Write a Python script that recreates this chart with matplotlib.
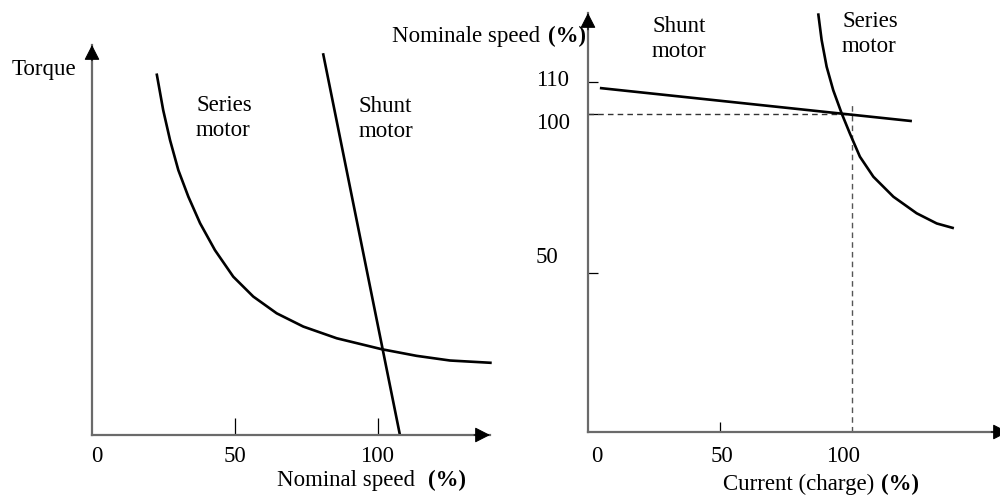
import matplotlib
matplotlib.use("Agg")
import matplotlib.pyplot as plt

# ---- data -------------------------------------------------------------
# Torque vs. nominal speed (%)
series_speed = [22.6, 24.9, 27.3, 30.2, 33.7, 37.8, 43.0, 49.4, 56.4, 64.6,
                73.9, 85.6, 101.3, 113.5, 125.2, 139.8]
series_torque = [92.7, 83.3, 75.6, 67.9, 61.1, 54.3, 47.4, 40.6, 35.5, 31.2,
                 27.8, 24.8, 22.0, 20.3, 19.1, 18.5]
shunt_speed = [80.8, 107.7]
shunt_torque = [97.9, 0.0]

# Nominal speed (%) vs. current (charge) (%)
shunt_current = [4.5, 122.7]
shunt_nspeed = [108.2, 97.8]
series_current = [87.2, 88.5, 90.4, 92.9, 96.1, 99.2, 103.0, 108.1, 115.7,
                  124.5, 132.1, 138.6]
series_nspeed = [131.7, 123.3, 114.9, 107.5, 100.2, 93.9, 86.6, 80.3, 74.0,
                 68.8, 65.6, 64.1]

left_xticks = [50, 100]
right_xticks = [50]
right_yticks = [50, 100, 110]
nominal_point = (100, 100)

# ---- style ------------------------------------------------------------
FONT = "Liberation Serif"
FS = 16.5
plt.rcParams["font.family"] = [FONT, "DejaVu Serif"]

W, H = 1000, 496
fig = plt.figure(figsize=(W / 100, H / 100), dpi=100)


def fx(x):
    return x / W


def fy(y):
    return 1 - y / H


def label(x, y, s, ha="left", bold=False):
    fig.text(fx(x), fy(y), s, ha=ha, va="baseline", fontsize=FS,
             fontweight="bold" if bold else "normal", color="black")


def style_axes(ax):
    for side in ("top", "right"):
        ax.spines[side].set_visible(False)
    for side in ("left", "bottom"):
        ax.spines[side].set_color("#6a6a6a")
        ax.spines[side].set_linewidth(1.6)
    ax.patch.set_alpha(0)
    ap = dict(arrowstyle="-|>,head_length=0.47,head_width=0.24",
              color="black", lw=0.8, mutation_scale=20, shrinkA=0, shrinkB=0)
    ax.annotate("", xy=(1, 0), xytext=(0.96, 0), xycoords="axes fraction",
                arrowprops=ap, annotation_clip=False)
    ax.annotate("", xy=(0, 1), xytext=(0, 0.96), xycoords="axes fraction",
                arrowprops=ap, annotation_clip=False)


curve_kw = dict(color="black", lw=1.9, clip_on=False,
                solid_capstyle="butt", solid_joinstyle="round")

# ---- left panel: torque characteristic -------------------------------
axL = fig.add_axes([fx(92), fy(435), (490 - 92) / W, (435 - 45) / H])
axL.set_xlim(0, 139.2)
axL.set_ylim(0, 100)
style_axes(axL)
axL.set_xticks(left_xticks)
axL.set_yticks([])
axL.tick_params(axis="x", direction="in", length=12.2, width=0.9,
                color="black", labelbottom=False)

axL.plot(series_speed, series_torque, **curve_kw)
axL.plot(shunt_speed, shunt_torque, **curve_kw)

# ---- right panel: speed characteristic -------------------------------
axR = fig.add_axes([fx(588), fy(432), (1008 - 588) / W, (432 - 13) / H])
axR.set_xlim(0, 159.1)
axR.set_ylim(0, 131.8)
style_axes(axR)
axR.set_xticks(right_xticks)
axR.set_yticks(right_yticks)
axR.set_yticks(right_yticks, minor=True)
axR.tick_params(axis="x", direction="in", length=7.2, width=0.9,
                color="black", labelbottom=False)
axR.tick_params(axis="y", which="major", direction="in", length=7.2,
                width=0.9, color="black", labelleft=False)
axR.tick_params(axis="y", which="minor", direction="out", length=3.6,
                width=0.9, color="black", labelleft=False)

xn, yn = nominal_point
axR.plot([0, xn], [yn, yn], color="#333333", lw=1.0, ls=(0, (4, 3)))
axR.plot([xn, xn], [0, 103.8], color="#555555", lw=1.0, ls=(0, (4, 3)))
axR.plot(shunt_current, shunt_nspeed, **curve_kw)
axR.plot(series_current, series_nspeed, **curve_kw)

# ---- texts ------------------------------------------------------------
label(12, 75, "Torque")
label(197, 111, "Series")
label(196, 136, "motor")
label(359, 112, "Shunt")
label(359, 137, "motor")
label(97, 462, "0", ha="center")
label(235, 462, "50", ha="center")
label(377, 462, "100", ha="center")
label(277, 486, "Nominal speed")
label(428, 486, "(%)", bold=True)

label(392, 42, "Nominale speed")
label(548, 42, "(%)", bold=True)
label(652, 32, "Shunt")
label(652, 57, "motor")
label(842, 27, "Series")
label(842, 52, "motor")
label(553, 86, "110", ha="center")
label(553, 129, "100", ha="center")
label(547, 263, "50", ha="center")
label(597, 462, "0", ha="center")
label(722, 462, "50", ha="center")
label(843, 462, "100", ha="center")
label(723, 490, "Current (charge)")
label(881, 490, "(%)", bold=True)

fig.savefig("out.png", dpi=100, facecolor="white")
